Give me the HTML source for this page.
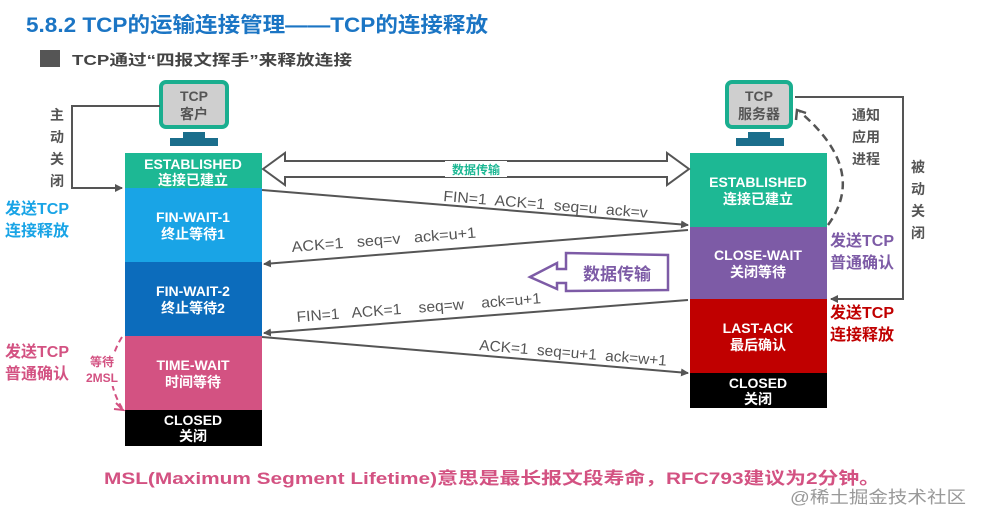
<!DOCTYPE html>
<html><head><meta charset="utf-8"><style>
html,body{margin:0;padding:0;background:#fff;}
svg{display:block;font-family:"Liberation Sans","Noto Sans CJK SC",sans-serif;}
.w{fill:#fff;font-weight:bold;font-size:14px;text-anchor:middle;}
.m{fill:#555;font-size:15px;white-space:pre;}
</style></head><body>
<svg width="981" height="525" viewBox="0 0 981 525" xmlns="http://www.w3.org/2000/svg">
<defs>
<marker id="a" markerWidth="8" markerHeight="8" refX="7" refY="4" orient="auto" markerUnits="userSpaceOnUse"><path d="M0,0 L8,4 L0,8 z" fill="#555"/></marker>
</defs>
<text x="26" y="32" font-size="21" font-weight="bold" fill="#1b75c4" textLength="462" lengthAdjust="spacingAndGlyphs">5.8.2 TCP的运输连接管理——TCP的连接释放</text>
<rect x="40" y="50" width="20" height="17" fill="#555"/>
<text x="72" y="65" font-size="15" font-weight="bold" fill="#444" textLength="280" lengthAdjust="spacingAndGlyphs">TCP通过“四报文挥手”来释放连接</text>

<rect x="161" y="82" width="66" height="45" rx="5" fill="#cfcfcf" stroke="#1aae8f" stroke-width="4"/>
<text x="194" y="101" font-size="14" font-weight="bold" fill="#555" text-anchor="middle">TCP</text>
<text x="194" y="119" font-size="14" font-weight="bold" fill="#555" text-anchor="middle">客户</text>
<rect x="183" y="132" width="22" height="8" fill="#1b6e8c"/>
<rect x="170" y="138" width="48" height="8" fill="#1b6e8c"/>

<rect x="727" y="82" width="64" height="45" rx="5" fill="#cfcfcf" stroke="#1aae8f" stroke-width="4"/>
<text x="759" y="101" font-size="14" font-weight="bold" fill="#555" text-anchor="middle">TCP</text>
<text x="759" y="119" font-size="14" font-weight="bold" fill="#555" text-anchor="middle">服务器</text>
<rect x="748" y="132" width="22" height="8" fill="#1b6e8c"/>
<rect x="736" y="138" width="48" height="8" fill="#1b6e8c"/>

<rect x="125" y="153" width="137" height="35" fill="#1db894"/>
<text class="w" x="193" y="169">ESTABLISHED</text><text class="w" x="193" y="185">连接已建立</text>
<rect x="125" y="188" width="137" height="74" fill="#19a4e6"/>
<text class="w" x="193" y="222">FIN-WAIT-1</text><text class="w" x="193" y="239">终止等待1</text>
<rect x="125" y="262" width="137" height="74" fill="#0c6cbc"/>
<text class="w" x="193" y="296">FIN-WAIT-2</text><text class="w" x="193" y="313">终止等待2</text>
<rect x="125" y="336" width="137" height="74" fill="#d35282"/>
<text class="w" x="193" y="370">TIME-WAIT</text><text class="w" x="193" y="387">时间等待</text>
<rect x="125" y="410" width="137" height="36" fill="#000"/>
<text class="w" x="193" y="425">CLOSED</text><text class="w" x="193" y="441">关闭</text>

<rect x="690" y="153" width="137" height="74" fill="#1db894"/>
<text class="w" x="758" y="187">ESTABLISHED</text><text class="w" x="758" y="204">连接已建立</text>
<rect x="690" y="227" width="137" height="72" fill="#7d5ba6"/>
<text class="w" x="758" y="260">CLOSE-WAIT</text><text class="w" x="758" y="277">关闭等待</text>
<rect x="690" y="299" width="137" height="74" fill="#c00000"/>
<text class="w" x="758" y="333">LAST-ACK</text><text class="w" x="758" y="350">最后确认</text>
<rect x="690" y="373" width="137" height="35" fill="#000"/>
<text class="w" x="758" y="388">CLOSED</text><text class="w" x="758" y="404">关闭</text>

<path d="M263,169 L285,153 L285,161 L667,161 L667,153 L689,169 L667,185 L667,177 L285,177 L285,185 Z" fill="#fff" stroke="#555" stroke-width="2"/>
<rect x="445" y="161" width="62" height="16" fill="#fff"/>
<text x="476" y="174" font-size="12" font-weight="bold" fill="#1db894" text-anchor="middle">数据传输</text>

<g stroke="#555" stroke-width="2" fill="none">
<line x1="262" y1="190" x2="688" y2="225" marker-end="url(#a)"/>
<line x1="688" y1="230" x2="264" y2="264" marker-end="url(#a)"/>
<line x1="688" y1="300" x2="264" y2="333" marker-end="url(#a)"/>
<line x1="262" y1="337" x2="688" y2="373" marker-end="url(#a)"/>
</g>
<text class="m" x="443" y="201" transform="rotate(4.7 443 201)" textLength="205" lengthAdjust="spacingAndGlyphs">FIN=1  ACK=1  seq=u  ack=v</text>
<text class="m" x="292" y="252" transform="rotate(-4.5 292 252)" textLength="185" lengthAdjust="spacingAndGlyphs">ACK=1   seq=v   ack=u+1</text>
<text class="m" x="297" y="322" transform="rotate(-4.4 297 322)" textLength="245" lengthAdjust="spacingAndGlyphs">FIN=1   ACK=1    seq=w    ack=u+1</text>
<text class="m" x="479" y="350" transform="rotate(4.8 479 350)" textLength="188" lengthAdjust="spacingAndGlyphs">ACK=1  seq=u+1  ack=w+1</text>

<path d="M530,277 L557,263 L557,269 L566,269 L566,253 L668,255 L668,290 L566,291 L566,283 L557,283 L557,289 Z" fill="#fff" stroke="#7d5ba6" stroke-width="2.5"/>
<text x="617" y="280" font-size="17" font-weight="bold" fill="#7d5ba6" text-anchor="middle">数据传输</text>

<g fill="#555" font-size="14" font-weight="bold" text-anchor="middle">
<text x="57" y="120">主</text><text x="57" y="142">动</text><text x="57" y="164">关</text><text x="57" y="186">闭</text>
</g>
<path d="M160,106 L72,106 L72,188 L122,188" stroke="#555" stroke-width="2" fill="none" marker-end="url(#a)"/>
<text x="5" y="214" font-size="16" font-weight="bold" fill="#19a4e6">发送TCP</text>
<text x="5" y="236" font-size="16" font-weight="bold" fill="#19a4e6">连接释放</text>
<text x="5" y="357" font-size="16" font-weight="bold" fill="#d35282">发送TCP</text>
<text x="5" y="379" font-size="16" font-weight="bold" fill="#d35282">普通确认</text>
<path d="M122,337 Q100,372 122,408" stroke="#d35282" stroke-width="2" stroke-dasharray="6,4" fill="none"/>
<path d="M116,403 L123,410 L114,409" stroke="#d35282" stroke-width="2" fill="none"/>
<rect x="83" y="352" width="38" height="34" rx="4" fill="#fff"/>
<text x="102" y="366" font-size="12" font-weight="bold" fill="#d35282" text-anchor="middle">等待</text>
<text x="102" y="382" font-size="12" font-weight="bold" fill="#d35282" text-anchor="middle">2MSL</text>

<path d="M795,97 L903,97 L903,299 L831,299" stroke="#555" stroke-width="2" fill="none" marker-end="url(#a)"/>
<path d="M828,225 Q868,170 800,112" stroke="#555" stroke-width="2.5" stroke-dasharray="8,5" fill="none"/>
<path d="M796,120 L797,110 L806,113" stroke="#555" stroke-width="2.5" fill="none"/>
<g fill="#555" font-size="14" font-weight="bold">
<text x="852" y="120">通知</text><text x="852" y="142">应用</text><text x="852" y="164">进程</text>
<text x="911" y="172">被</text><text x="911" y="194">动</text><text x="911" y="216">关</text><text x="911" y="238">闭</text>
</g>
<text x="830" y="246" font-size="16" font-weight="bold" fill="#7d5ba6">发送TCP</text>
<text x="830" y="268" font-size="16" font-weight="bold" fill="#7d5ba6">普通确认</text>
<text x="830" y="318" font-size="16" font-weight="bold" fill="#c00000">发送TCP</text>
<text x="830" y="340" font-size="16" font-weight="bold" fill="#c00000">连接释放</text>

<text x="104" y="484" font-size="17" font-weight="bold" fill="#d35282" textLength="776" lengthAdjust="spacingAndGlyphs">MSL(Maximum Segment Lifetime)意思是最长报文段寿命，RFC793建议为2分钟。</text>
<text x="790" y="503" font-size="17" fill="#999" textLength="176" lengthAdjust="spacingAndGlyphs">@稀土掘金技术社区</text>
</svg>
</body></html>
